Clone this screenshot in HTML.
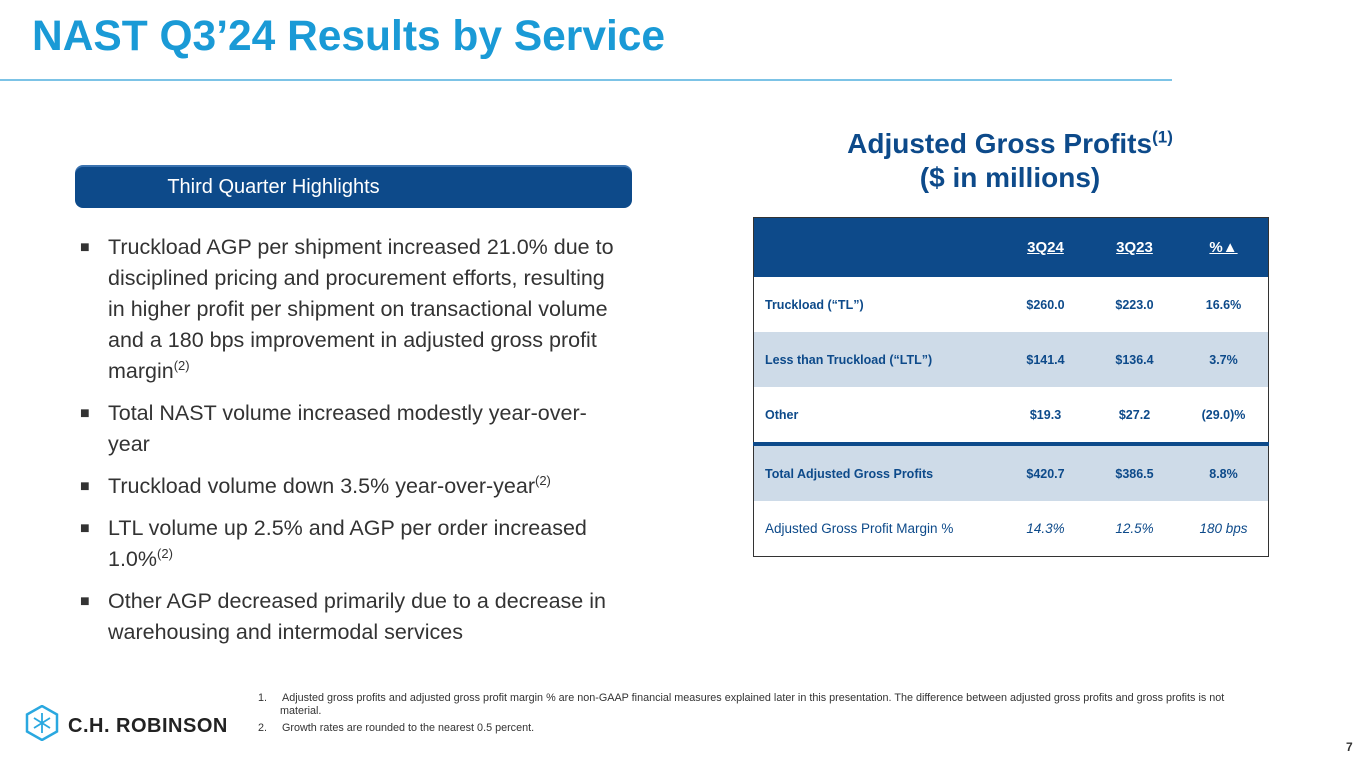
<!DOCTYPE html>
<html><head><meta charset="utf-8"><style>
body{margin:0;width:1365px;height:768px;background:#fff;font-family:"Liberation Sans",Arial,sans-serif;position:relative;overflow:hidden}
.abs{position:absolute}
h1{position:absolute;left:32px;top:13px;margin:0;font-size:42.5px;font-weight:bold;color:#1a9ad6}
.rule{left:0;top:79px;width:1172px;height:2px;background:#7cc3e6}
.banner{left:75px;top:167px;width:557px;height:41px;background:#0d4a8a;border-radius:8px;color:#fff;font-size:20px;line-height:41px;text-align:center;box-shadow:0 -2px 0 #3b73b0}
.banner span{position:relative;left:-80px}
ul{position:absolute;left:80px;top:232px;margin:0;padding:0;list-style:none;width:640px;font-size:21.5px;color:#333;line-height:31px;white-space:nowrap}
li{padding-left:28px;position:relative;margin-bottom:11px}
li:before{content:"■";position:absolute;left:0;top:0;font-size:16px}
sup{font-size:13px;vertical-align:super;line-height:0}
.agp{left:760px;top:127px;width:500px;text-align:center;color:#0d4a8a;font-weight:bold;font-size:28px;line-height:34px}
.agp sup{font-size:17px}
table{position:absolute;left:753px;top:217px;width:516px;border-collapse:collapse;border:1px solid #333;font-size:12.5px;font-weight:bold;color:#0d4a8a}
td{padding:0 0 0 11px;height:55px}
td.n{text-align:center;padding:0;width:89px}
tr.h td{background:#0d4a8a;color:#fff;font-size:15px;height:59px;text-decoration:underline}
tr.s td{background:#cedbe8}
tr.t td{border-top:4px solid #0d4a8a}
tr.m td{font-weight:normal;font-size:13.5px}
tr.m td.n{font-style:italic}
.fn{left:258px;top:692px;width:1040px;font-size:10.8px;color:#333;line-height:13px}
.fn div{padding-left:22px;text-indent:-22px;margin-bottom:4px}
.logo{left:24px;top:705px}
.pg{left:1346px;top:740px;font-size:12px;font-weight:bold;color:#333}
</style></head><body>
<h1>NAST Q3’24 Results by Service</h1>
<div class="abs rule"></div>
<div class="abs banner"><span>Third Quarter Highlights</span></div>
<ul>
<li>Truckload AGP per shipment increased 21.0% due to<br>disciplined pricing and procurement efforts, resulting<br>in higher profit per shipment on transactional volume<br>and a 180 bps improvement in adjusted gross profit<br>margin<sup>(2)</sup></li>
<li>Total NAST volume increased modestly year-over-<br>year</li>
<li>Truckload volume down 3.5% year-over-year<sup>(2)</sup></li>
<li>LTL volume up 2.5% and AGP per order increased<br>1.0%<sup>(2)</sup></li>
<li>Other AGP decreased primarily due to a decrease in<br>warehousing and intermodal services</li>
</ul>
<div class="abs agp">Adjusted Gross Profits<sup>(1)</sup><br>($ in millions)</div>
<table>
<tr class="h"><td style="text-decoration:none"></td><td class="n">3Q24</td><td class="n">3Q23</td><td class="n">%▲</td></tr>
<tr><td>Truckload (“TL”)</td><td class="n">$260.0</td><td class="n">$223.0</td><td class="n">16.6%</td></tr>
<tr class="s"><td>Less than Truckload (“LTL”)</td><td class="n">$141.4</td><td class="n">$136.4</td><td class="n">3.7%</td></tr>
<tr><td>Other</td><td class="n">$19.3</td><td class="n">$27.2</td><td class="n">(29.0)%</td></tr>
<tr class="s t"><td>Total Adjusted Gross Profits</td><td class="n">$420.7</td><td class="n">$386.5</td><td class="n">8.8%</td></tr>
<tr class="m"><td>Adjusted Gross Profit Margin %</td><td class="n">14.3%</td><td class="n">12.5%</td><td class="n">180 bps</td></tr>
</table>
<div class="abs logo">
<svg width="220" height="36" viewBox="0 0 220 36"><g fill="none" stroke="#2aa8e0" stroke-width="2.5"><polygon points="18,1 33,9.5 33,26.5 18,35 3,26.5 3,9.5"/><path d="M18 8v20M10 13l16 10M26 13l-16 10" stroke-width="1.8"/></g><text x="44" y="27" font-family="Liberation Sans, sans-serif" font-weight="bold" font-size="20" fill="#222" letter-spacing="0.5">C.H. ROBINSON</text></svg>
</div>
<div class="abs fn">
<div>1.&nbsp;&nbsp;&nbsp;&nbsp;&nbsp;Adjusted gross profits and adjusted gross profit margin % are non-GAAP financial measures explained later in this presentation. The difference between adjusted gross profits and gross profits is not<br>material.</div>
<div>2.&nbsp;&nbsp;&nbsp;&nbsp;&nbsp;Growth rates are rounded to the nearest 0.5 percent.</div>
</div>
<div class="abs pg">7</div>
</body></html>
